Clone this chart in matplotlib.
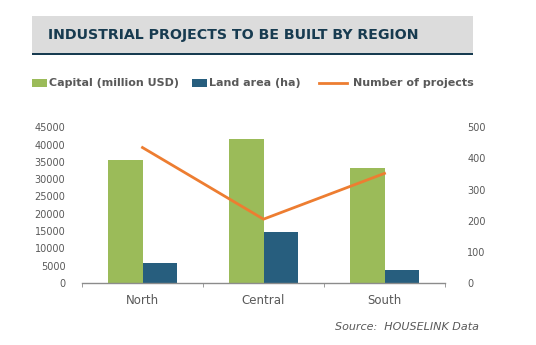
import matplotlib
matplotlib.use("Agg")
import matplotlib.pyplot as plt
from matplotlib.patches import Rectangle
from matplotlib.lines import Line2D

regions = ["North", "Central", "South"]
capital = [35600, 41500, 33300]
land_area = [5700, 14800, 3800]
projects = [435, 205, 352]

left_ticks = [0, 5000, 10000, 15000, 20000, 25000, 30000, 35000, 40000, 45000]
right_ticks = [0, 100, 200, 300, 400, 500]

GREEN = "#9BBB59"
BLUE = "#275E7E"
ORANGE = "#ED7D31"
TXT = "#595959"
NAVY = "#173B50"

W, H = 536, 345
fig = plt.figure(figsize=(W / 100, H / 100), dpi=100)
fig.patch.set_facecolor("white")

def fx(px):
    return px / W

def fy(py):
    return 1 - py / H

# title band
fig.patches.append(Rectangle((fx(31.5), fy(53)), fx(473) - fx(31.5), fy(16) - fy(53),
                             transform=fig.transFigure, facecolor="#DCDCDC", edgecolor="none", zorder=0))
fig.patches.append(Rectangle((fx(31.5), fy(55)), fx(473) - fx(31.5), fy(53) - fy(55),
                             transform=fig.transFigure, facecolor=NAVY, edgecolor="none", zorder=1))
fig.text(fx(48), fy(35.5), "INDUSTRIAL PROJECTS TO BE BUILT BY REGION", fontsize=10.2,
         fontweight="bold", color=NAVY, va="center", ha="left")

# legend (manual layout in figure)
ly = 82.5
fig.patches.append(Rectangle((fx(32), fy(86.5)), fx(47) - fx(32), fy(78.5) - fy(86.5),
                             transform=fig.transFigure, facecolor=GREEN, edgecolor="none"))
fig.text(fx(49), fy(ly), "Capital (million USD)", fontsize=8, fontweight="bold", color=TXT,
         va="center", ha="left")
fig.patches.append(Rectangle((fx(192), fy(86.5)), fx(207) - fx(192), fy(78.5) - fy(86.5),
                             transform=fig.transFigure, facecolor=BLUE, edgecolor="none"))
fig.text(fx(209), fy(ly), "Land area (ha)", fontsize=8, fontweight="bold", color=TXT,
         va="center", ha="left")
fig.lines.append(Line2D([fx(319), fx(347)], [fy(82.5), fy(82.5)], transform=fig.transFigure,
                        color=ORANGE, lw=2))
fig.text(fx(353), fy(ly), "Number of projects", fontsize=8, fontweight="bold", color=TXT,
         va="center", ha="left")

# axes
ax = fig.add_axes([fx(82), fy(283), fx(445) - fx(82), fy(127.3) - fy(283)])
ax2 = ax.twinx()
x = list(range(len(regions)))
bw = 0.285
ax.bar([i - bw / 2 for i in x], capital, width=bw, color=GREEN, zorder=2)
ax.bar([i + bw / 2 for i in x], land_area, width=bw, color=BLUE, zorder=2)
ax2.plot(x, projects, color=ORANGE, lw=2, zorder=3)

ax.set_xlim(-0.5, len(regions) - 0.5)
ax.set_ylim(0, 45000)
ax2.set_ylim(0, 500)
ax.set_yticks(left_ticks)
ax.set_yticklabels([str(v) for v in left_ticks])
ax2.set_yticks(right_ticks)
ax2.set_yticklabels([str(v) for v in right_ticks])

ax.set_xticks(x)
ax.set_xticklabels(regions)
ax.set_xticks([i - 0.5 for i in range(len(regions) + 1)], minor=True)
ax.tick_params(axis="x", which="major", length=0, pad=8, labelsize=8.5, labelcolor=TXT)
ax.tick_params(axis="x", which="minor", length=3, color="#8C8C8C", direction="out")
ax.tick_params(axis="y", length=0, labelsize=7, labelcolor=TXT, pad=12)
ax2.tick_params(axis="y", length=0, labelsize=7, labelcolor=TXT, pad=16)

for a in (ax, ax2):
    for s in ("top", "left", "right", "bottom"):
        a.spines[s].set_visible(False)
ax.spines["bottom"].set_visible(True)
ax.spines["bottom"].set_color("#8C8C8C")
ax.spines["bottom"].set_linewidth(1)

fig.text(fx(479), fy(327), "Source:  HOUSELINK Data", fontsize=8, style="italic", color=TXT,
         ha="right", va="center")

fig.savefig("out.png", dpi=100)
